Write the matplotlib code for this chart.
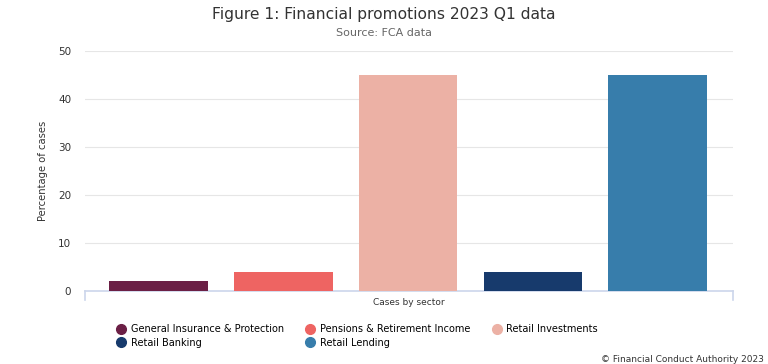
import matplotlib.pyplot as plt
from matplotlib.lines import Line2D
import numpy as np

plt.rcParams['font.family'] = ['DejaVu Sans']

sectors = ['General Insurance & Protection', 'Pensions & Retirement Income',
           'Retail Investments', 'Retail Banking', 'Retail Lending']
pct = [2, 4, 45, 4, 45]
colors = ['#6b1f45', '#ee6462', '#ecb1a5', '#173a6c', '#377dab']
yticks = [0, 10, 20, 30, 40, 50]

fig = plt.figure(figsize=(7.68, 3.64), dpi=100)
ax = fig.add_axes([85/768, 1-291/364, 648/768, 240/364])

x = np.arange(len(sectors))
ax.bar(x, pct, width=0.79, color=colors, zorder=3)
ax.set_xlim(-0.59, 4.605)
ax.set_ylim(0, 50)
ax.set_yticks(yticks)
ax.tick_params(axis='y', length=0, labelsize=7.5, colors='#333333', pad=10)
ax.set_xticks([])
ax.grid(True, axis='y', color='#e6e6e6', linewidth=0.8, zorder=0)
for s in ['top', 'right', 'left']:
    ax.spines[s].set_visible(False)
ax.spines['bottom'].set_color('#ccd6eb')
ax.spines['bottom'].set_linewidth(1.2)
# small end ticks on the x axis line
for xe in ax.get_xlim():
    ax.plot([xe, xe], [0, -1.8], color='#ccd6eb', lw=1.2, clip_on=False)

ax.set_ylabel('Percentage of cases', fontsize=7.2, color='#333333')
ax.yaxis.set_label_coords(-(85-48)/648, 0.5)
ax.set_xlabel('Cases by sector', fontsize=6.5, color='#333333', labelpad=5)

fig.text(0.5, 1-14/364, 'Figure 1: Financial promotions 2023 Q1 data',
         ha='center', va='center', fontsize=11.2, color='#333333')
fig.text(0.5, 1-33/364, 'Source: FCA data', ha='center', va='center',
         fontsize=8, color='#666666')
fig.text(0.995, 1-360/364, '\u00a9 Financial Conduct Authority 2023',
         ha='right', va='center', fontsize=6.5, color='#333333')

handles = [Line2D([], [], marker='o', ls='', color=c, markersize=7) for c in colors]
order = [0, 3, 1, 4, 2]
fig.legend([handles[i] for i in order], [sectors[i] for i in order],
           ncol=3, loc='upper left', bbox_to_anchor=(116/768, 1-324/364),
           frameon=False, fontsize=7, handletextpad=0.4, columnspacing=2.2,
           labelspacing=0.4, borderaxespad=0, borderpad=0, handlelength=1.1)

fig.savefig('out.png', dpi=100)
